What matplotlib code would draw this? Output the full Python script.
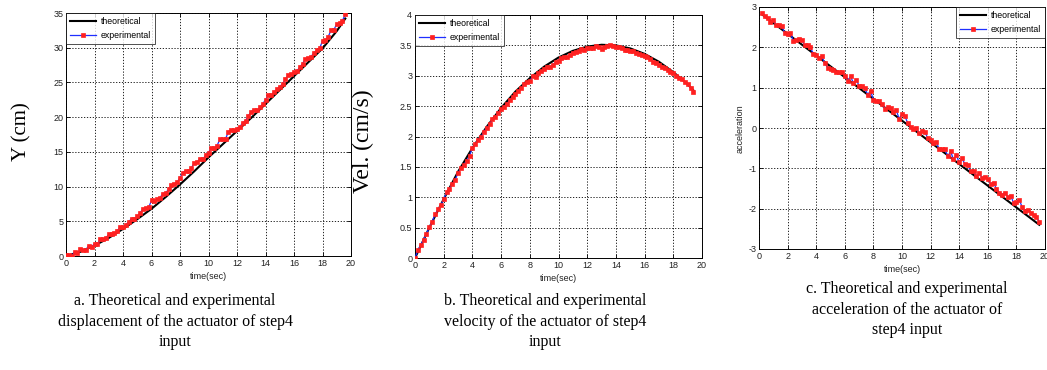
import matplotlib
matplotlib.use("Agg")
import matplotlib.pyplot as plt

plt.rcParams["axes.unicode_minus"] = False

# ---------------- data ----------------
t_exp = [0.0, 0.2, 0.4, 0.6, 0.8, 1.0, 1.2, 1.4, 1.6, 1.8,
         2.0, 2.2, 2.4, 2.6, 2.8, 3.0, 3.2, 3.4, 3.6, 3.8,
         4.0, 4.2, 4.4, 4.6, 4.8, 5.0, 5.2, 5.4, 5.6, 5.8,
         6.0, 6.2, 6.4, 6.6, 6.8, 7.0, 7.2, 7.4, 7.6, 7.8,
         8.0, 8.2, 8.4, 8.6, 8.8, 9.0, 9.2, 9.4, 9.6, 9.8,
         10.0, 10.2, 10.4, 10.6, 10.8, 11.0, 11.2, 11.4, 11.6, 11.8,
         12.0, 12.2, 12.4, 12.6, 12.8, 13.0, 13.2, 13.4, 13.6, 13.8,
         14.0, 14.2, 14.4, 14.6, 14.8, 15.0, 15.2, 15.4, 15.6, 15.8,
         16.0, 16.2, 16.4, 16.6, 16.8, 17.0, 17.2, 17.4, 17.6, 17.8,
         18.0, 18.2, 18.4, 18.6, 18.8, 19.0, 19.2, 19.4, 19.6]

# (a) displacement
t_theo_a = [0, 1, 2, 3, 4, 5, 6, 7, 8, 9, 10, 11, 12, 13, 14, 15, 16, 17, 18, 19, 19.6]
disp_theo = [0.0, 0.6, 1.5, 2.6, 3.9, 5.3, 6.8, 8.5, 10.3, 12.2, 14.2, 16.1, 18.0, 19.9,
             21.9, 23.9, 25.9, 27.9, 29.9, 32.4, 34.2]
disp_exp = [0.1, 0.1, 0.0, 0.6, 0.4, 1.0, 0.8, 0.9, 1.5, 1.3,
            1.8, 1.7, 2.4, 2.4, 2.6, 3.1, 3.1, 3.3, 3.6, 4.2,
            4.2, 4.5, 4.9, 5.4, 5.4, 5.7, 6.2, 6.8, 6.9, 7.0,
            8.0, 7.9, 8.2, 8.4, 9.0, 9.1, 9.6, 10.2, 10.4, 10.6,
            11.3, 12.0, 12.3, 12.2, 12.7, 13.4, 13.5, 14.0, 13.9, 14.5,
            14.9, 15.6, 15.6, 15.9, 16.8, 16.9, 16.9, 17.9, 18.2, 18.1,
            18.3, 18.6, 19.2, 19.5, 20.2, 20.8, 21.1, 21.0, 21.4, 21.9,
            22.5, 23.2, 23.2, 23.6, 24.0, 24.4, 24.8, 25.5, 26.0, 26.2,
            26.5, 26.6, 27.2, 27.7, 28.4, 28.5, 28.7, 29.3, 29.6, 29.9,
            31.0, 31.1, 31.6, 32.5, 32.6, 33.4, 33.5, 33.9, 34.8]

# (b) velocity
t_theo_b = [0, 1, 2, 3, 4, 5, 6, 7, 8, 9, 10, 11, 12, 13, 14, 15, 16, 17, 18, 19, 19.4]
vel_theo = [0.0, 0.5, 0.97, 1.42, 1.81, 2.16, 2.47, 2.74, 2.96, 3.15, 3.30, 3.41, 3.48,
            3.51, 3.50, 3.45, 3.36, 3.23, 3.06, 2.86, 2.76]
vel_exp = [0.0, 0.13, 0.22, 0.30, 0.40, 0.51, 0.60, 0.72, 0.80, 0.87,
           0.97, 1.08, 1.14, 1.22, 1.29, 1.40, 1.48, 1.53, 1.60, 1.68,
           1.81, 1.87, 1.95, 1.99, 2.08, 2.14, 2.20, 2.28, 2.32, 2.39,
           2.45, 2.49, 2.53, 2.60, 2.65, 2.70, 2.75, 2.80, 2.86, 2.90,
           2.91, 2.99, 2.98, 3.04, 3.08, 3.11, 3.14, 3.15, 3.18, 3.22,
           3.25, 3.30, 3.31, 3.31, 3.34, 3.37, 3.39, 3.40, 3.44, 3.42,
           3.46, 3.46, 3.45, 3.49, 3.47, 3.44, 3.47, 3.49, 3.50, 3.49,
           3.47, 3.48, 3.45, 3.42, 3.42, 3.40, 3.40, 3.37, 3.35, 3.34,
           3.33, 3.31, 3.27, 3.23, 3.21, 3.18, 3.15, 3.12, 3.09, 3.06,
           3.04, 3.00, 2.97, 2.95, 2.90, 2.86, 2.80, 2.74]

# (c) acceleration
t_theo_c = [0.2, 19.6]
acc_theo = [2.82, -2.40]
acc_exp = [2.85, 2.77, 2.72, 2.62, 2.68, 2.56, 2.56, 2.52, 2.36,
           2.33, 2.36, 2.16, 2.17, 2.20, 2.18, 2.05, 2.06, 2.00, 1.83,
           1.80, 1.74, 1.78, 1.60, 1.50, 1.47, 1.45, 1.38, 1.40, 1.38,
           1.30, 1.17, 1.28, 1.12, 1.19, 1.05, 1.03, 0.98, 0.83, 0.92,
           0.70, 0.67, 0.66, 0.60, 0.48, 0.52, 0.50, 0.40, 0.44, 0.23,
           0.35, 0.30, 0.12, 0.02, -0.02, 0.00, -0.13, -0.08, -0.10, -0.25,
           -0.30, -0.38, -0.35, -0.52, -0.52, -0.52, -0.70, -0.58, -0.78, -0.68,
           -0.85, -0.75, -0.90, -0.92, -1.07, -1.07, -1.20, -1.12, -1.23, -1.22,
           -1.27, -1.38, -1.36, -1.50, -1.60, -1.65, -1.60, -1.72, -1.68, -1.85,
           -1.83, -1.78, -1.96, -2.05, -2.03, -2.10, -2.15, -2.20, -2.33]

x_ticks = [0, 2, 4, 6, 8, 10, 12, 14, 16, 18, 20]
ticks_a = [0, 5, 10, 15, 20, 25, 30, 35]
ticks_b = [0, 0.5, 1, 1.5, 2, 2.5, 3, 3.5, 4]
ticks_c = [-3, -2, -1, 0, 1, 2, 3]

captions = [
    "a. Theoretical and experimental\ndisplacement of the actuator of step4\ninput",
    "b. Theoretical and experimental\nvelocity of the actuator of step4\ninput",
    "c. Theoretical and experimental\nacceleration of the actuator of\nstep4 input",
]

# ---------------- figure ----------------
W, H = 1047, 370
fig = plt.figure(figsize=(W / 100, H / 100), dpi=100)

def px_axes(l, t, r, b):
    return fig.add_axes([l / W, 1 - b / H, (r - l) / W, (b - t) / H])

sans = "Liberation Sans"
serif = "Liberation Serif"
tick_fs = 6.5

def style(ax, yticks, ylim, ticklabels=None):
    ax.set_xlim(0, 20)
    ax.set_ylim(*ylim)
    ax.set_xticks(x_ticks)
    ax.set_yticks(yticks)
    if ticklabels is not None:
        ax.set_yticklabels(ticklabels)
    ax.tick_params(direction="in", length=3, width=0.6, labelsize=tick_fs, pad=2,
                   top=True, right=True)
    for lab in ax.get_xticklabels() + ax.get_yticklabels():
        lab.set_fontfamily(sans)
        lab.set_color("#222222")
    ax.grid(True, color="black", linestyle=(0, (1.5, 2.0)), linewidth=0.6)
    for sp in ax.spines.values():
        sp.set_linewidth(0.7)
    ax.set_xlabel("time(sec)", fontsize=6.5, family=sans, labelpad=3, color="#222222")

def plot_pair(ax, tt, yt, te, ye):
    ax.plot(tt, yt, color="black", lw=1.5, label="theoretical", zorder=3)
    ax.plot(te, ye, color="#1f2fff", lw=0.9, marker="s", markersize=3.3,
            markerfacecolor="#ff2020", markeredgecolor="#ff2020", markeredgewidth=0.5,
            label="experimental", zorder=4)

def legend(ax, loc):
    leg = ax.legend(loc=loc, frameon=True, fancybox=False,
                    borderpad=0.45, labelspacing=0.55, handlelength=3.0,
                    handletextpad=0.5, borderaxespad=0.0,
                    prop={"family": sans, "size": 6.3})
    leg.get_frame().set_edgecolor("black")
    leg.get_frame().set_linewidth(0.6)
    leg.set_zorder(10)

def ylabel(ax, text, fs, family, xfrac, yfrac, color="black"):
    ax.set_ylabel(text, fontsize=fs, family=family, color=color)
    ax.yaxis.set_label_coords(xfrac, yfrac)
    ax.yaxis.label.set_verticalalignment("center")

# (a)
ax1 = px_axes(66, 13, 351, 256)
plot_pair(ax1, t_theo_a, disp_theo, t_exp, disp_exp)
style(ax1, ticks_a, (0, 35))
legend(ax1, "upper left")
ylabel(ax1, "Y (cm)", 15, serif, (22 - 66) / 285, (256 - 132) / 243)

# (b)
ax2 = px_axes(415, 15, 702, 258)
plot_pair(ax2, t_theo_b, vel_theo, t_exp[:len(vel_exp)], vel_exp)
style(ax2, ticks_b, (0, 4), ["0", "0.5", "1", "1.5", "2", "2.5", "3", "3.5", "4"])
legend(ax2, "upper left")
ylabel(ax2, "Vel. (cm/s)", 17, serif, (363 - 415) / 287, (258 - 141) / 243)

# (c)
ax3 = px_axes(759, 7, 1045, 249)
plot_pair(ax3, t_theo_c, acc_theo, t_exp[1:], acc_exp)
style(ax3, ticks_c, (-3, 3))
legend(ax3, "upper right")
ylabel(ax3, "acceleration", 6.5, sans, (740 - 759) / 286, (249 - 129) / 242, "#222222")

# captions
cap_pos = [(175, 293), (545, 293), (907, 281)]
for (cx, cy), txt in zip(cap_pos, captions):
    fig.text(cx / W, 1 - cy / H, txt, ha="center", va="top", fontsize=11.5,
             family=serif, linespacing=1.38)

fig.savefig("out.png", dpi=100)
